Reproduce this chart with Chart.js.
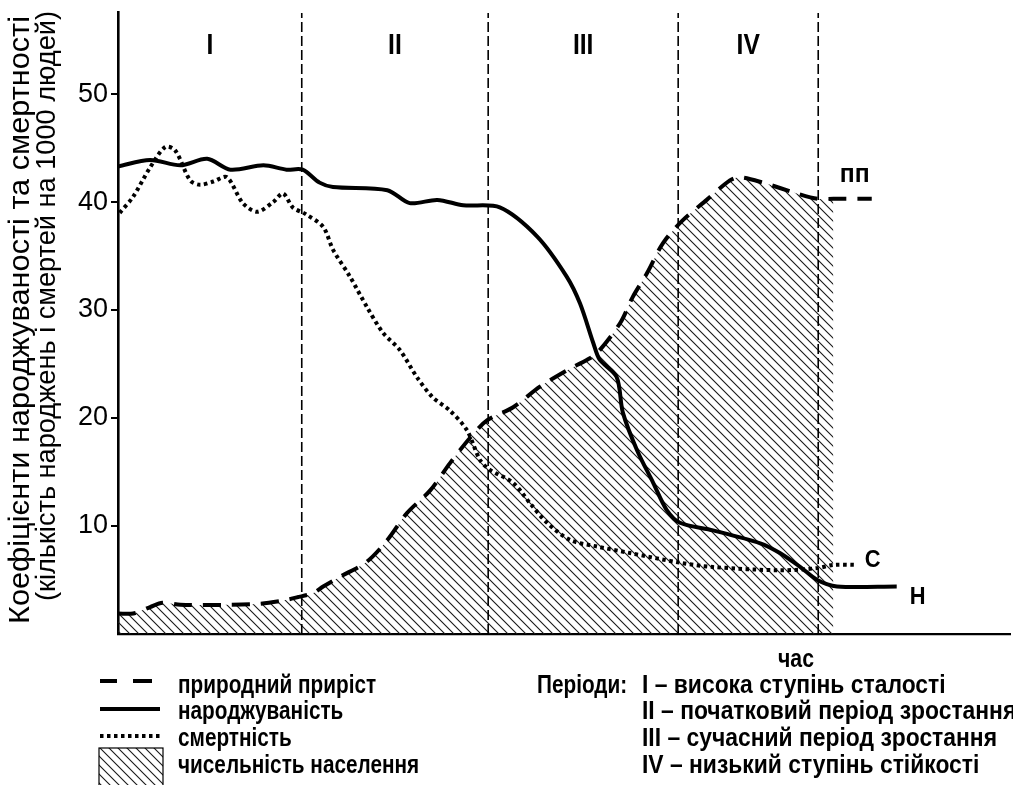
<!DOCTYPE html>
<html><head><meta charset="utf-8">
<script src="https://cdn.jsdelivr.net/npm/chart.js@4.4.1/dist/chart.umd.min.js"></script>
<style>html,body{margin:0;padding:0;background:#fff}</style>
</head><body>
<canvas id="c" width="1013" height="785"></canvas>
<script>
// ---- data (time in arbitrary units 0..100, rates per 1000 people) ----
const birthTime = [0,3.6,7.0,10.0,12.6,16.3,18.9,20.7,22.6,24.1,30.2,32.7,35.8,38.7,42.8,47.0,50.3,51.8,53.3,54.0,55.9,56.6,58.2,60.0,61.5,63.0,66.7,72.0,74.2,76.5,78.4,80.6,87.3];
const birthRate = [43.3,43.9,43.4,44.0,43.0,43.4,43.0,43.0,41.8,41.4,41.1,39.9,40.2,39.7,39.5,36.8,33.1,30.6,26.9,25.4,23.8,20.5,17.0,14.0,11.5,10.3,9.6,8.4,7.5,6.2,5.0,4.4,4.4];

const deathTime = [0.2,1.7,3.6,5.3,6.4,8.1,9.2,10.7,12.2,14.0,15.6,17.4,18.5,19.6,21.0,23.0,24.1,26.0,27.9,29.7,31.6,33.5,35.3,37.2,39.1,40.6,41.7,44.3,46.2,48.1,50.7,53.7,57.4,63.0,66.7,74.2,78.4,80.2,82.8];
const deathRate = [39.0,40.5,43.2,45.1,44.8,42.0,41.6,41.9,42.3,39.9,39.1,40.0,40.8,39.5,38.9,37.7,35.6,33.1,30.3,27.9,26.3,23.8,21.9,20.7,18.9,16.1,15.2,14.0,12.1,10.3,8.7,8.1,7.5,6.6,6.2,5.9,6.1,6.4,6.4];

const growthTime = [0,1.7,3.6,5.0,7.0,12.6,15.9,18.5,20.1,21.9,23.0,24.9,27.9,30.2,32.4,35.0,37.2,39.5,41.4,44.3,47.3,50.3,52.6,53.7,56.3,57.7,59.3,61.1,63.3,66.0,68.6,69.7,72.3,76.1,78.4,80.2,84.5];
const growthRate = [1.9,1.9,2.5,2.9,2.7,2.7,2.8,3.1,3.4,3.8,4.4,5.3,6.7,8.7,11.2,13.3,15.8,18.2,19.8,21.0,22.9,24.4,25.4,26.0,28.8,31.2,33.4,36.2,38.3,40.2,42.0,42.3,41.8,40.8,40.3,40.3,40.3];

const populationEnd = 80.2;            // hatched population area ends here
const periodBounds = [20.6, 41.5, 62.8, 78.5];
const periodNames = ['I','II','III','IV'];
const yTicks = [10,20,30,40,50];
const seriesTags = ['пп','С','Н'];
const legendLabels = ['природний приріст','народжуваність','смертність','чисельність населення'];
const periodTexts = ['I – висока ступінь сталості','II – початковий період зростання','III – сучасний період зростання','IV – низький ступінь стійкості'];
const yTitle = ['Коефіцієнти народжуваності та смертності','(кількість народжень і смертей на 1000 людей)'];
const xTitle = 'час';
const periodsWord = 'Періоди:';

// ---- helpers ----
const pts = (xs, ys) => xs.map((x,i)=>({x, y: ys[i]}));
const canvas = document.getElementById('c');
const ctx0 = canvas.getContext('2d');
function makeHatch(){
  const s=9, c=document.createElement('canvas'); c.width=s; c.height=s;
  const g=c.getContext('2d'); g.strokeStyle='#1a1a1a'; g.lineWidth=1.1;
  g.beginPath();
  g.moveTo(-1,-1); g.lineTo(s+1,s+1);
  g.moveTo(-1,s-1); g.lineTo(1,s+1);
  g.moveTo(s-1,-1); g.lineTo(s+1,1);
  g.stroke();
  return ctx0.createPattern(c,'repeat');
}
const hatch = makeHatch();
const growthPts = pts(growthTime, growthRate);
const popPts = growthPts.filter(p => p.x <= populationEnd);
const yTop = 57.5;
const periodPts = [];
periodBounds.forEach(b => { periodPts.push({x:b,y:0},{x:b,y:yTop},{x:b,y:null}); });

const SANS = '"Liberation Sans", Arial, sans-serif';

function narrowText(ctx, t, x, y, sx){
  ctx.save(); ctx.translate(x,y); ctx.scale(sx,1); ctx.fillText(t,0,0); ctx.restore();
}
// rotated text fitted to a given length along its direction
function verticalText(ctx, t, cx, cy, len){
  ctx.save(); ctx.translate(cx,cy); ctx.rotate(-Math.PI/2);
  const w = ctx.measureText(t).width;
  ctx.scale(len/w,1); ctx.textAlign='center'; ctx.textBaseline='middle';
  ctx.fillText(t,0,0); ctx.restore();
}

const textPlugin = {
  id:'texts',
  afterDraw(chart){
    const {ctx, chartArea:ca, scales:{x, y}} = chart;
    ctx.save();
    ctx.fillStyle='#000';
    ctx.textBaseline='middle';
    // y axis title (two lines)
    ctx.font = '29px '+SANS;
    verticalText(ctx, yTitle[0], 21, 320, 608);
    ctx.font = '28px '+SANS;
    verticalText(ctx, yTitle[1], 47, 306, 590);

    // period numerals
    ctx.font = 'bold 29px '+SANS;
    ctx.textAlign='center';
    const edges=[x.min, ...periodBounds];
    periodNames.forEach((n,i)=>{
      const cx=(x.getPixelForValue(edges[i])+x.getPixelForValue(edges[i+1]))/2;
      narrowText(ctx, n, cx, 46, 0.85);
    });
    // series tags
    const lastG = growthPts[growthPts.length-1];
    const lastD = {x:deathTime[deathTime.length-1], y:deathRate[deathRate.length-1]};
    const lastB = {x:birthTime[birthTime.length-1], y:birthRate[birthRate.length-1]};
    ctx.font = 'bold 26px '+SANS;
    narrowText(ctx, seriesTags[0], x.getPixelForValue(lastG.x)-17, y.getPixelForValue(lastG.y)-24, 0.95);
    ctx.font = 'bold 23px '+SANS;
    narrowText(ctx, seriesTags[1], x.getPixelForValue(lastD.x)+16, y.getPixelForValue(lastD.y)-4, 0.95);
    narrowText(ctx, seriesTags[2], x.getPixelForValue(lastB.x)+21, y.getPixelForValue(lastB.y)+11, 0.95);

    // x title
    ctx.font = 'bold 25px '+SANS;
    narrowText(ctx, xTitle, 796, 660, 0.85);

    // legend (left column)
    const rows=[686,712,739,766];
    ctx.textAlign='left';
    legendLabels.forEach((t,i)=>narrowText(ctx, t, 178, rows[i], 0.83));
    ctx.strokeStyle='#000';
    ctx.lineWidth=4;
    ctx.beginPath(); ctx.moveTo(100,681); ctx.lineTo(117,681); ctx.moveTo(133,681); ctx.lineTo(152,681); ctx.stroke();
    ctx.beginPath(); ctx.moveTo(100,709); ctx.lineTo(160,709); ctx.stroke();
    ctx.setLineDash([3.5,3.5]);
    ctx.beginPath(); ctx.moveTo(100,736); ctx.lineTo(162,736); ctx.stroke();
    ctx.setLineDash([]);
    ctx.fillStyle=hatch; ctx.fillRect(99,748,64,37);
    ctx.lineWidth=1.2; ctx.strokeRect(99,748,64,40);
    ctx.fillStyle='#000';
    // periods column
    narrowText(ctx, periodsWord, 537, rows[0], 0.83);
    periodTexts.forEach((t,i)=>narrowText(ctx, t, 642, rows[i], 0.915));
    ctx.restore();
  }
};

new Chart(canvas, {
  type:'scatter',
  data:{datasets:[
    {label:'чисельність населення', data: popPts, showLine:true, pointRadius:0, borderWidth:0, borderColor:'rgba(0,0,0,0)', backgroundColor: hatch, fill:'origin', tension:0.3, order:6},
    {label:'periods', data: periodPts, showLine:true, spanGaps:false, pointRadius:0, borderColor:'#000', borderWidth:1.6, borderDash:[10,4], fill:false, order:5},
    {label:'природний приріст', data: growthPts, showLine:true, pointRadius:0, borderColor:'#000', borderWidth:4, borderDash:[18,11], fill:false, tension:0.3, order:3},
    {label:'смертність', data: pts(deathTime, deathRate), showLine:true, pointRadius:0, borderColor:'#000', borderWidth:4, borderDash:[3.5,3.5], fill:false, tension:0.3, order:2},
    {label:'народжуваність', data: pts(birthTime, birthRate), showLine:true, pointRadius:0, borderColor:'#000', borderWidth:4, fill:false, tension:0.3, order:1}
  ]},
  options:{
    responsive:false, animation:false, devicePixelRatio:1,
    layout:{padding:{top:12,right:3,left:0,bottom:0}},
    plugins:{legend:{display:false}, tooltip:{enabled:false}},
    scales:{
      x:{type:'linear', min:0, max:100,
        grid:{display:false, drawTicks:false},
        border:{display:true, color:'#000', width:2.2},
        ticks:{display:false},
        afterFit(s){ s.height = 151; s.paddingLeft = 0; s.paddingRight = 0; }
      },
      y:{type:'linear', min:0, max:57.6,
        grid:{drawOnChartArea:false, drawTicks:true, tickLength:7, color:'#000', lineWidth:2},
        border:{display:true, color:'#000', width:2.6},
        afterBuildTicks(s){ s.ticks = yTicks.map(v=>({value:v})); },
        ticks:{color:'#000', padding:3, font:{family:SANS, size:27}},
        title:{display:false, text:yTitle},
        afterFit(s){ s.width = 118; s.paddingTop = 0; s.paddingBottom = 0; }
      }
    }
  },
  plugins:[textPlugin]
});
</script>
</body></html>
